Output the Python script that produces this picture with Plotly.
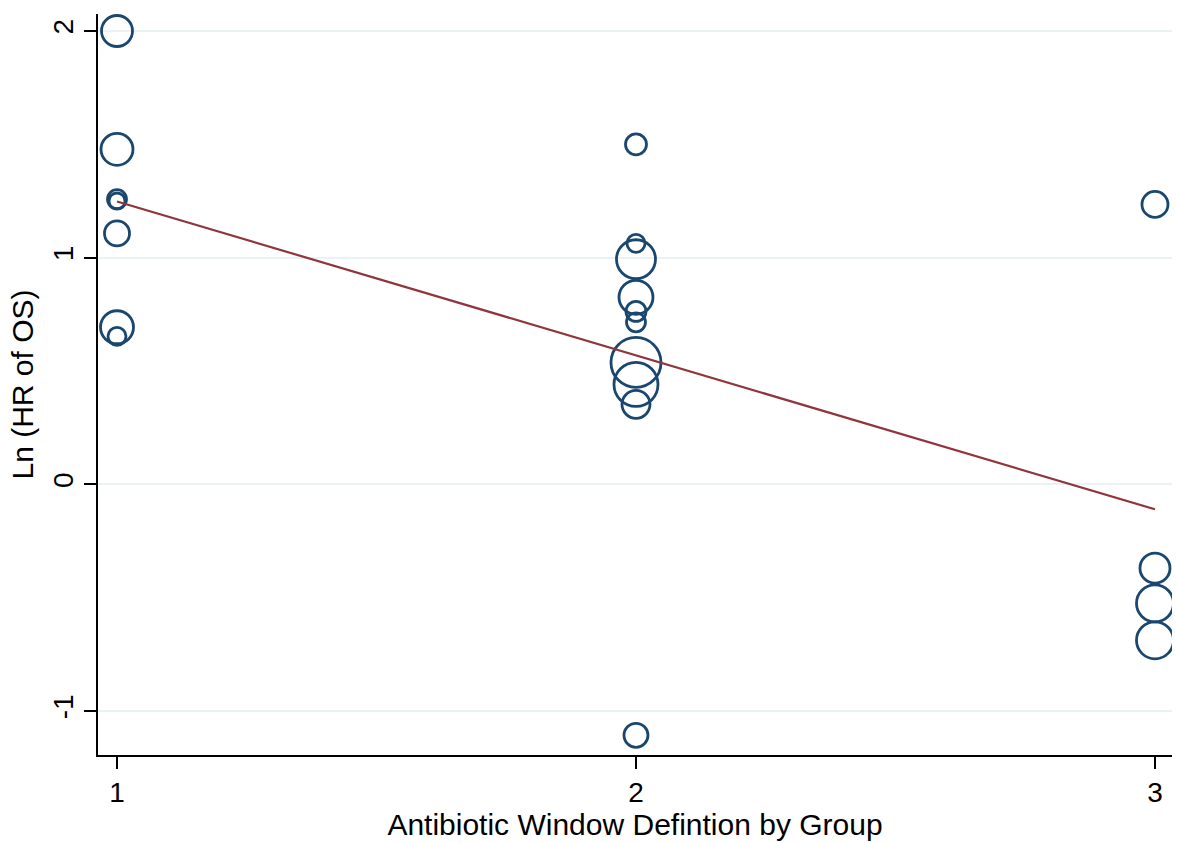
import plotly.graph_objects as go

# Data
group = [1, 1, 1, 1, 1, 1, 1,
         2, 2, 2, 2, 2, 2, 2, 2, 2, 2,
         3, 3, 3, 3]
ln_hr = [2.00, 1.478, 1.258, 1.250, 1.107, 0.693, 0.653,
         1.50, 1.063, 0.993, 0.825, 0.763, 0.715, 0.538, 0.441, 0.353, -1.107,
         1.235, -0.370, -0.525, -0.688]
weight = [31, 32, 19, 16, 25, 33, 18,
          21, 18, 39, 34, 20, 19, 50, 44, 28, 24,
          26, 30, 37, 37]

fit_x = [1, 3]
fit_y = [1.248, -0.110]

x_ticks = [1, 2, 3]
y_ticks = [-1, 0, 1, 2]

navy = "#1a476f"
maroon = "#90353b"
grid = "#eaf2f3"
font = "Liberation Sans, Arial, Helvetica, sans-serif"

fig = go.Figure()
fig.add_trace(go.Scatter(
    x=group, y=ln_hr, mode="markers",
    marker=dict(symbol="circle-open", size=weight, color=navy, opacity=1,
                line=dict(width=2.8, color=navy)),
    showlegend=False, hoverinfo="x+y"))
fig.add_trace(go.Scatter(
    x=fit_x, y=fit_y, mode="lines",
    line=dict(color=maroon, width=2.2), showlegend=False))

fig.update_layout(
    width=1177, height=843,
    margin=dict(l=98, r=5, t=14, b=88),
    paper_bgcolor="white", plot_bgcolor="white",
    font=dict(family=font, size=28, color="black"),
    xaxis=dict(range=[0.9634, 3.0328], tickvals=x_ticks, ticktext=[str(v) for v in x_ticks],
               showgrid=False, zeroline=False, showline=True, linecolor="black", linewidth=1.5,
               ticks="outside", ticklen=12, tickwidth=1.5, tickcolor="black",
               tickfont=dict(size=28),
               title=dict(text="Antibiotic Window Defintion by Group", font=dict(size=30), standoff=6)),
    yaxis=dict(range=[-1.194, 2.075], tickvals=y_ticks, ticktext=[str(v) for v in y_ticks],
               showgrid=True, gridcolor=grid, gridwidth=2, zeroline=False,
               showline=True, linecolor="black", linewidth=1.5,
               ticks="outside", ticklen=12, tickwidth=1.5, tickcolor="black",
               tickangle=-90, tickfont=dict(size=28),
               title=dict(text="Ln (HR of OS)", font=dict(size=30), standoff=6)),
)

fig.write_html("out.html")
